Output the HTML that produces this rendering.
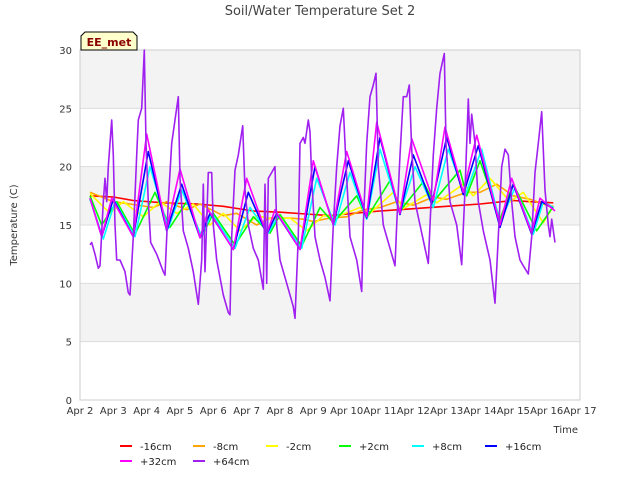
<!DOCTYPE html>
<html><head><meta charset="utf-8"><style>
body{margin:0;background:#fff;}
svg text{font-family:"DejaVu Sans","Liberation Sans",sans-serif;}
</style></head><body>
<svg id="chart" width="640" height="480" xmlns="http://www.w3.org/2000/svg">
<rect width="640" height="480" fill="#fff"/>
<text x="320" y="15" text-anchor="middle" font-size="13" fill="#444">Soil/Water Temperature Set 2</text>
<g id="bands"></g>
<g id="grid"></g>
<g id="ticks"></g>
<rect x="80" y="50" width="500" height="350" fill="none" stroke="#ccc"/>
<g id="series"></g>
<text transform="translate(17,225) rotate(-90)" text-anchor="middle" font-size="10" fill="#333">Temperature (C)</text>
<text x="578" y="433" text-anchor="end" font-size="10" fill="#333">Time</text>
<g>
<path d="M85,32 L133,32 L137,36 L137,50 L81,50 L81,36 Z" fill="#ffffcc" stroke="#000" stroke-width="1"/>
<text x="109" y="46" text-anchor="middle" font-size="11" font-weight="bold" fill="#8b0000">EE_met</text>
</g>
<g id="legend"></g>
</svg>
<script>
const ns="http://www.w3.org/2000/svg";
const yTicks=[0,5,10,15,20,25,30];
const xTickLabels=["Apr 2","Apr 3","Apr 4","Apr 5","Apr 6","Apr 7","Apr 8","Apr 9","Apr 10","Apr 11","Apr 12","Apr 13","Apr 14","Apr 15","Apr 16","Apr 17"];
const xTickDays=[2,3,4,5,6,7,8,9,10,11,12,13,14,15,16,17];
const shadedBands=[[5,10],[15,20],[25,30]];
const seriesNames=["-16cm","-8cm","-2cm","+2cm","+8cm","+16cm","+32cm","+64cm"];
const seriesColors=["#ff0000","#ffa500","#ffff00","#00ff00","#00ffff","#0000ff","#ff00ff","#a020f0"];
const t16n=[2.3,3.0,3.6,4.5,5.5,6.3,7.2,8.0,9.0,9.5,10.2,11.0,12.0,13.0,14.0,15.0,15.5,16.2];
const v16n=[17.5,17.4,17.1,16.9,16.8,16.6,16.2,16.1,15.9,15.8,16.0,16.2,16.4,16.6,16.8,17.1,17.0,16.9];
const t8n=[2.3,3.0,3.5,4.2,4.6,5.2,5.6,6.3,6.7,7.3,7.7,8.3,8.7,9.0,9.5,10.0,10.5,11.0,11.5,12.0,12.6,13.0,13.6,14.0,14.5,15.0,15.5,16.0,16.2];
const v8n=[17.8,17.0,16.8,16.5,17.0,16.3,16.8,15.8,16.0,15.0,15.6,15.6,15.5,15.3,15.6,15.7,16.3,16.5,17.0,16.7,17.4,17.2,17.8,17.8,18.5,17.5,17.2,16.7,16.6];
const t2n=[2.3,2.9,3.3,3.9,4.4,4.9,5.4,5.9,6.3,6.8,7.3,7.8,8.3,8.8,9.3,9.7,10.4,10.7,11.4,11.7,12.4,12.7,13.5,13.8,14.3,14.9,15.3,15.9,16.2];
const v2n=[17.7,16.0,17.0,15.7,17.0,16.0,16.8,15.0,16.0,14.5,15.8,15.5,15.6,14.5,15.8,15.7,16.5,16.0,17.8,16.4,17.6,16.9,18.5,17.5,19.0,17.0,17.8,15.2,16.6];
const t2p=[2.3,2.65,3.1,3.65,4.25,4.7,5.2,5.65,6.0,6.65,7.2,7.7,8.0,8.65,9.2,9.6,10.3,10.6,11.3,11.6,12.3,12.6,13.4,13.6,14.0,14.6,15.0,15.7,16.2];
const v2p=[17.5,15.0,17.0,14.2,17.8,14.8,17.0,14.0,16.0,13.3,15.7,14.3,15.9,13.2,16.5,15.2,17.5,15.6,18.8,16.2,18.7,17.0,19.7,17.5,20.5,15.5,18.5,14.5,16.6];
const t8p=[2.3,2.7,3.05,3.65,4.1,4.65,5.05,5.65,5.95,6.65,7.1,7.65,7.95,8.65,9.1,9.65,10.1,10.6,11.0,11.6,12.05,12.6,13.05,13.55,14.05,14.6,15.05,15.6,15.9,16.2];
const v8p=[17.2,13.8,17.0,14.0,20.0,14.7,18.0,14.0,16.0,13.0,16.5,14.3,15.8,13.0,19.0,15.0,19.5,15.5,21.5,16.0,20.0,16.5,21.5,17.5,21.5,15.2,18.2,14.2,17.0,16.5];
const t16p=[2.3,2.65,3.0,3.6,4.05,4.6,5.05,5.6,5.9,6.6,7.05,7.6,7.9,8.6,9.05,9.6,10.05,10.6,11.0,11.6,12.0,12.55,13.0,13.5,13.95,14.6,15.0,15.55,15.85,16.2];
const v16p=[17.3,14.0,17.2,14.0,21.3,14.5,18.5,13.9,16.0,12.9,17.8,14.2,16.0,12.9,20.0,15.0,20.5,15.6,22.5,15.9,21.0,16.8,22.5,17.6,21.8,14.8,18.5,14.2,17.0,16.4];
const t32p=[2.3,2.65,2.95,3.6,4.0,4.6,5.0,5.6,5.85,6.6,7.0,7.6,7.85,8.6,9.0,9.6,10.0,10.6,10.9,11.6,11.95,12.6,12.95,13.5,13.9,14.6,14.95,15.55,15.8,16.25];
const v32p=[17.3,14.0,17.3,14.0,22.8,14.6,19.8,13.9,16.3,12.9,19.0,14.2,16.3,12.9,20.5,15.0,21.3,15.7,23.8,16.0,22.4,17.1,23.4,17.8,22.7,15.0,19.0,14.3,17.3,16.2];
const t64p=[2.3,2.35,2.45,2.55,2.6,2.7,2.75,2.8,2.85,2.95,3.0,3.05,3.1,3.2,3.35,3.45,3.5,3.6,3.7,3.75,3.85,3.93,3.98,4.05,4.12,4.3,4.5,4.55,4.65,4.75,4.85,4.95,5.0,5.1,5.25,5.4,5.55,5.65,5.7,5.75,5.85,5.95,6.0,6.1,6.3,6.45,6.5,6.55,6.65,6.75,6.88,6.95,7.05,7.2,7.35,7.5,7.55,7.6,7.65,7.75,7.85,7.9,8.0,8.2,8.4,8.45,8.55,8.6,8.7,8.75,8.85,8.9,8.95,9.05,9.2,9.35,9.5,9.6,9.7,9.8,9.9,10.0,10.1,10.3,10.45,10.5,10.6,10.7,10.8,10.88,10.95,11.1,11.3,11.45,11.5,11.6,11.7,11.8,11.88,11.95,12.05,12.2,12.35,12.45,12.5,12.6,12.7,12.8,12.93,12.98,13.1,13.3,13.45,13.55,13.65,13.7,13.75,13.85,13.95,14.1,14.3,14.45,14.55,14.65,14.75,14.85,14.95,15.05,15.2,15.3,15.45,15.55,15.65,15.75,15.85,15.95,16.05,16.1,16.15,16.25];
const v64p=[13.3,13.5,12.5,11.3,11.5,17,19,17,20,24,21,15,12,12,11,9.2,9,14,21,24,25,30,22,17,13.5,12.5,11,10.7,17,22,24,26,19,14.5,13,11,8.2,12,18.5,11,19.5,19.5,15,12,9,7.5,7.3,14,19.7,21,23.5,18,15,13,12,9.5,18.5,10,19,19.5,20,15,12,10,8,7,14,22,22.5,22,24,23,19,14,12,10.5,8.5,15,20,23.5,25,19,14,12,9.3,15,22,26,27,28,20,15,13,11.5,15,21,26,26,27,21.5,17,15,13,11.7,15,21,25,28,29.7,22,17,15,11.6,18,25.8,22,24.5,22,17,14.5,12,8.3,14,20,21.5,21,17,14,12,11.5,10.8,14,19.5,22,24.7,18,15,14,15.5,13.5];
const seriesT=[t16n,t8n,t2n,t2p,t8p,t16p,t32p,t64p];
const seriesV=[v16n,v8n,v2n,v2p,v8p,v16p,v32p,v64p];
const X0=80,X1=580,Y0=400,Y1=50,D0=2,D1=17,VMAX=30;
function xs(d){return X0+(d-D0)/(D1-D0)*(X1-X0);}
function ys(v){return Y0-v/VMAX*(Y0-Y1);}
function mk(tag,attrs,parent){const e=document.createElementNS(ns,tag);for(const k in attrs)e.setAttribute(k,attrs[k]);parent.appendChild(e);return e;}
const bands=document.getElementById('bands');
shadedBands.forEach(b=>{const r=mk('rect',{x:X0,y:ys(b[1]),width:X1-X0,height:ys(b[0])-ys(b[1]),fill:'#f3f3f3'},bands);

});
const grid=document.getElementById('grid'),ticks=document.getElementById('ticks');
yTicks.forEach(v=>{const l=mk('line',{x1:X0,x2:X1,y1:ys(v),y2:ys(v),stroke:'#dcdcdc'},grid);


const t=mk('text',{x:X0-8,y:ys(v)+4,'text-anchor':'end','font-size':'10',fill:'#333'},ticks);t.textContent=v;

});
xTickDays.forEach((d,i)=>{const t=mk('text',{x:xs(d),y:414,'text-anchor':'middle','font-size':'10',fill:'#333'},ticks);t.textContent=xTickLabels[i];

});
const sg=document.getElementById('series');
seriesT.forEach((ts,i)=>{const pts=ts.map((t,j)=>xs(t).toFixed(1)+','+ys(seriesV[i][j]).toFixed(1)).join(' ');
const p=mk('polyline',{points:pts,fill:'none',stroke:seriesColors[i],'stroke-width':'1.6','stroke-linejoin':'round'},sg);

});
const lg=document.getElementById('legend');
seriesNames.forEach((n,i)=>{const row=Math.floor(i/6),col=i%6;const x=120+col*73,y=446+row*15;
const g=mk('g',{},lg);


mk('line',{x1:x,x2:x+12,y1:y,y2:y,stroke:seriesColors[i],'stroke-width':'2'},g);
const t=mk('text',{x:x+20,y:y+4,'font-size':'10',fill:'#222'},g);t.textContent=n;});
</script>
</body></html>
